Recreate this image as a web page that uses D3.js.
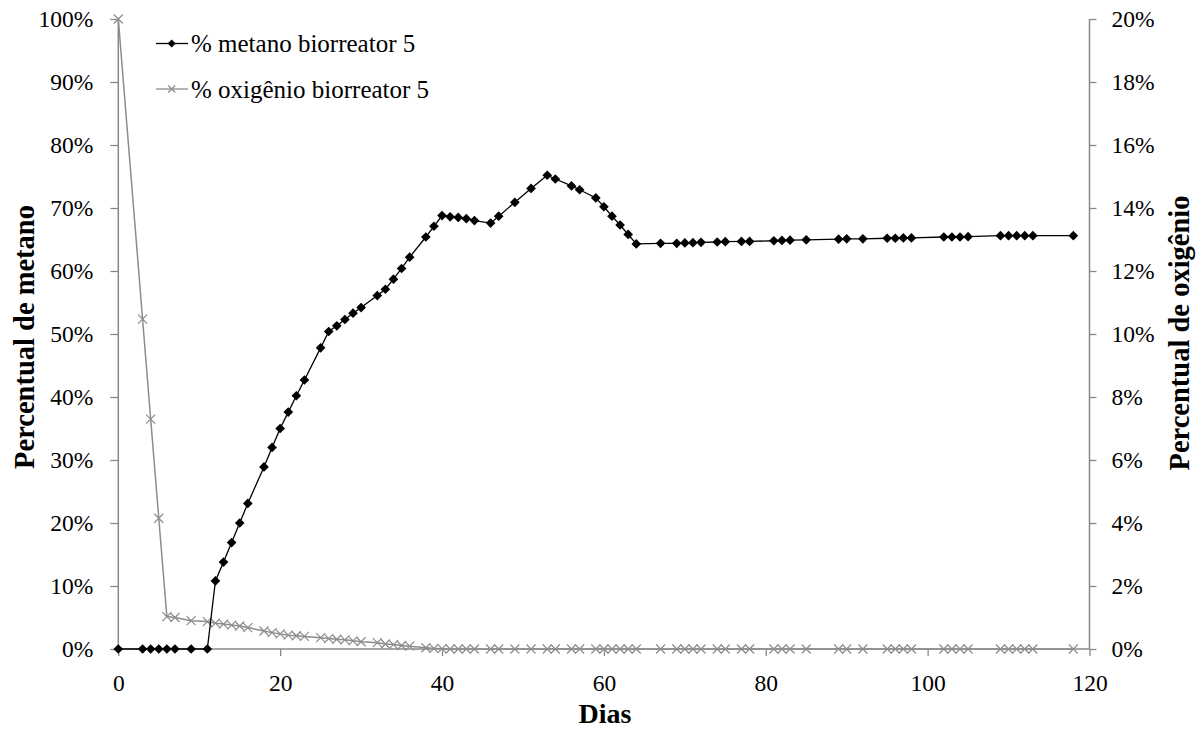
<!DOCTYPE html>
<html><head><meta charset="utf-8">
<script src="https://cdn.jsdelivr.net/npm/d3@7"></script>
<style>body{margin:0;background:#fff}svg{display:block}text{font-family:'Liberation Serif','Times New Roman',serif}</style>
</head><body>
<script>
const days = [0,3,4,5,6,7,9,11,12,13,14,15,16,18,19,20,21,22,23,25,26,27,28,29,30,32,33,34,35,36,38,39,40,41,42,43,44,46,47,49,51,53,54,56,57,59,60,61,62,63,64,67,69,70,71,72,74,75,77,78,81,82,83,85,89,90,92,95,96,97,98,102,103,104,105,109,110,111,112,113,118];
const methane = [0,0,0,0,0,0,0,0,10.8,13.8,16.9,20.0,23.1,28.9,32.0,35.0,37.6,40.2,42.7,47.8,50.4,51.3,52.3,53.3,54.2,56.1,57.1,58.7,60.4,62.2,65.4,67.1,68.8,68.6,68.5,68.3,68.0,67.6,68.7,70.9,73.1,75.2,74.6,73.5,72.9,71.6,70.2,68.7,67.3,65.8,64.3,64.4,64.4,64.45,64.5,64.55,64.6,64.65,64.7,64.7,64.8,64.85,64.9,64.95,65.05,65.1,65.1,65.2,65.2,65.25,65.25,65.4,65.4,65.4,65.45,65.6,65.6,65.6,65.6,65.6,65.6];
const oxygen = [20,10.47,7.3,4.15,1.03,1.0,0.9,0.87,0.82,0.79,0.76,0.73,0.68,0.57,0.52,0.48,0.44,0.42,0.4,0.36,0.33,0.31,0.29,0.26,0.23,0.2,0.16,0.14,0.11,0.09,0.04,0.02,0.01,0,0,0,0,0,0,0,0,0,0,0,0,0,0,0,0,0,0,0,0,0,0,0,0,0,0,0,0,0,0,0,0,0,0,0,0,0,0,0,0,0,0,0,0,0,0,0,0];
const xTicks = [0,20,40,60,80,100,120];
const leftTicks = [0,10,20,30,40,50,60,70,80,90,100];
const rightTicks = [0,2,4,6,8,10,12,14,16,18,20];
const seriesNames = ["% metano biorreator 5","% oxigênio biorreator 5"];

const W=1201,H=729;
const svg=d3.select("body").append("svg").attr("width",W).attr("height",H);
const x=d3.scaleLinear().domain([0,120]).range([118.3,1089.5]);
const yL=d3.scaleLinear().domain([0,100]).range([649,19]);
const yR=d3.scaleLinear().domain([0,20]).range([649,19]);
const axisCol="#898989";

// axes
const gx=svg.append("g").attr("transform","translate(0,649)")
  .call(d3.axisBottom(x).tickValues(xTicks).tickSize(7).tickPadding(18).tickFormat(d3.format("d")));
const gl=svg.append("g").attr("transform","translate(118.3,0)")
  .call(d3.axisLeft(yL).tickValues(leftTicks).tickSize(8).tickPadding(17).tickFormat(d=>d+"%"));
const gr=svg.append("g").attr("transform","translate(1089.5,0)")
  .call(d3.axisRight(yR).tickValues(rightTicks).tickSize(7).tickPadding(15).tickFormat(d=>d+"%"));
[gx,gl,gr].forEach(g=>{
  g.attr("font-family",null).attr("font-size",null);
  g.select(".domain").attr("stroke",axisCol).attr("stroke-width",1.5);
  g.selectAll(".tick line").attr("stroke",axisCol).attr("stroke-width",1.3);
  g.selectAll(".tick text").attr("fill","#000").style("font-size","23.5px");
});
gx.select(".domain").attr("d","M118.3,0H1089.5");
gl.select(".domain").attr("d","M0,649V19");
gr.select(".domain").attr("d","M0,649V19");

// oxygen series
const pts=days.map((d,i)=>({d,m:methane[i],o:oxygen[i]}));
const oCol="#8c8c8c";
svg.append("path").datum(pts).attr("fill","none").attr("stroke",oCol).attr("stroke-width",1.5)
  .attr("d",d3.line().x(p=>x(p.d)).y(p=>yR(p.o)));
const cross=(g,s)=>g.append("path").attr("d",`M${-s},${-s}L${s},${s}M${-s},${s}L${s},${-s}`).attr("stroke",oCol).attr("stroke-width",1.2).attr("fill","none");
svg.append("g").selectAll("g").data(pts).join("g")
  .attr("transform",p=>`translate(${x(p.d)},${yR(p.o)})`).each(function(){cross(d3.select(this),4.5);});

// methane series
svg.append("path").datum(pts).attr("fill","none").attr("stroke","#000").attr("stroke-width",1.3)
  .attr("d",d3.line().x(p=>x(p.d)).y(p=>yL(p.m)));
const diamond=d3.symbol().type(d3.symbolDiamond2).size(60);
svg.append("g").selectAll("path").data(pts).join("path")
  .attr("d",diamond).attr("fill","#000")
  .attr("transform",p=>`translate(${x(p.d)},${yL(p.m)})`);

// legend
const lg=svg.append("g");
lg.append("line").attr("x1",156).attr("x2",188).attr("y1",43.5).attr("y2",43.5).attr("stroke","#000").attr("stroke-width",1.3);
lg.append("path").attr("d",d3.symbol().type(d3.symbolDiamond2).size(40)).attr("transform","translate(171.7,43.5)").attr("fill","#000");
lg.append("text").attr("x",191).attr("y",52).text(seriesNames[0]).style("font-size","25px");
lg.append("line").attr("x1",156).attr("x2",188).attr("y1",89).attr("y2",89).attr("stroke",oCol).attr("stroke-width",1.3);
cross(lg.append("g").attr("transform","translate(171.7,89)"),3.5);
lg.append("text").attr("x",191).attr("y",97.5).text(seriesNames[1]).style("font-size","25px");

// titles
svg.append("text").attr("x",605).attr("y",723).attr("text-anchor","middle")
  .style("font-size","28px").style("font-weight","bold").text("Dias");
svg.append("text").attr("transform","translate(34,337) rotate(-90)").attr("text-anchor","middle")
  .style("font-size","28.5px").style("font-weight","bold").text("Percentual de metano");
svg.append("text").attr("transform","translate(1189,333) rotate(-90)").attr("text-anchor","middle")
  .style("font-size","28.5px").style("font-weight","bold").text("Percentual de oxigênio");
</script>
</body></html>
